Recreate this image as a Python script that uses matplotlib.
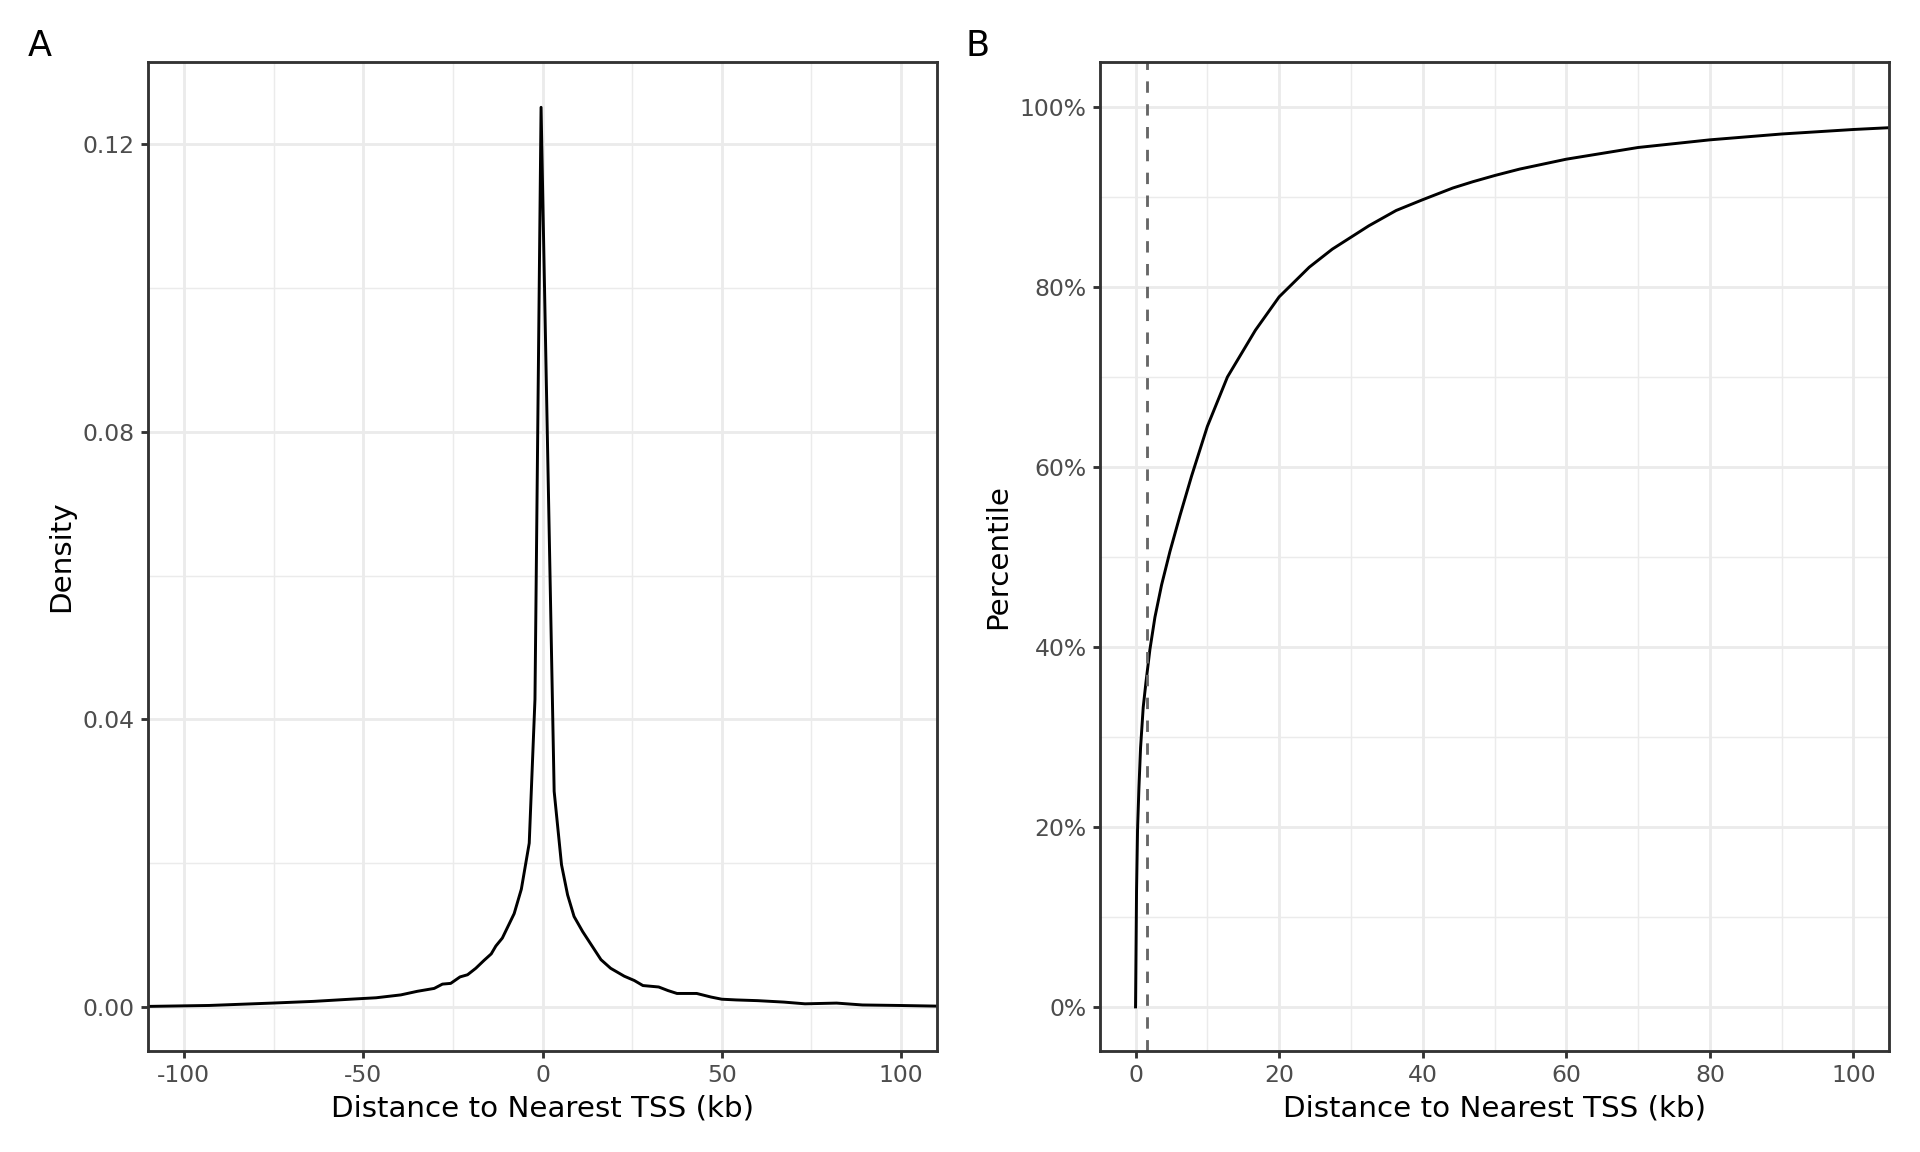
import numpy as np
import matplotlib
matplotlib.use('Agg')
import matplotlib.pyplot as plt
from matplotlib.ticker import MultipleLocator, FuncFormatter

# Panel A: density of distance to nearest TSS (kb)
density_x = [-110, -93, -75.5, -63.8, -53.6, -46.4, -39.5, -34.9, -30.2, -27.9,
             -25.6, -23, -20.9, -18.6, -16.3, -14.3, -13, -11.2, -7.9, -5.9,
             -3.7, -2.1, -0.4, 3.25, 5.3, 7, 8.8, 11.2, 16.3, 19,
             22.8, 25.6, 28, 32.4, 35, 37.5, 43, 47, 50, 54,
             60, 67.3, 73.2, 82, 89.2, 99.4, 110]
density_y = [0.0001, 0.00023, 0.00056, 0.0008, 0.0011, 0.0013, 0.0017, 0.0022, 0.0026, 0.0032,
             0.0033, 0.0042, 0.0045, 0.0054, 0.0065, 0.0074, 0.0085, 0.0096, 0.013, 0.0164,
             0.0228, 0.0428, 0.1251, 0.0300, 0.0198, 0.0156, 0.0126, 0.0105, 0.0066, 0.0054,
             0.0043, 0.0037, 0.0030, 0.0028, 0.0023, 0.0019, 0.0019, 0.0014, 0.0011, 0.0010,
             0.0009, 0.0007, 0.00046, 0.00056, 0.0003, 0.00023, 0.00014]

# Panel B: cumulative percentile of absolute distance (kb)
cdf_x = [0, 0.14, 0.28, 0.47, 0.70, 1.07, 1.44, 2.0, 2.7, 3.63, 4.79, 6.19, 7.81, 10,
         12.8, 16.7, 20, 24.2, 27.4, 32.5, 36.3, 40, 44.2, 47, 50.1, 53.5,
         60, 70, 80, 90, 100, 105]
cdf_y = [0, 0.129, 0.197, 0.243, 0.288, 0.333, 0.36, 0.397, 0.433, 0.469, 0.506, 0.546, 0.590, 0.645,
         0.700, 0.752, 0.789, 0.822, 0.842, 0.868, 0.885, 0.897, 0.910, 0.917, 0.924, 0.931,
         0.942, 0.955, 0.9635, 0.970, 0.975, 0.977]
median_cut = 1.53

plt.rcParams['font.family'] = ['DejaVu Sans']

fig = plt.figure(figsize=(10, 6), dpi=192)
axA = fig.add_axes([148/1920, 1 - 1051/1152, 789/1920, 989/1152])
axB = fig.add_axes([1100/1920, 1 - 1051/1152, 789/1920, 989/1152])


def bw_style(ax):
    ax.set_facecolor('white')
    ax.grid(which='major', color='#EBEBEB', lw=1.07)
    ax.grid(which='minor', color='#EBEBEB', lw=0.53)
    ax.set_axisbelow(True)
    for s in ax.spines.values():
        s.set_color('#333333')
        s.set_linewidth(1.07)
        s.set_zorder(5)
    ax.tick_params(which='major', length=2.75, width=1.07, color='#333333',
                   labelsize=8.8, labelcolor='#4D4D4D', pad=2.2)
    ax.tick_params(which='minor', length=0)


axA.plot(density_x, density_y, color='black', lw=1.1, solid_joinstyle='round')
axA.set_xlim(-110, 110)
axA.set_ylim(-0.0061, 0.1314)
axA.xaxis.set_major_locator(MultipleLocator(50))
axA.xaxis.set_minor_locator(MultipleLocator(25))
axA.yaxis.set_major_locator(MultipleLocator(0.04))
axA.yaxis.set_minor_locator(MultipleLocator(0.02))
axA.xaxis.set_major_formatter(FuncFormatter(lambda v, p: f'{v:.0f}'))
axA.yaxis.set_major_formatter(FuncFormatter(lambda v, p: f'{v:.2f}'))
bw_style(axA)
axA.set_xlabel('Distance to Nearest TSS (kb)', fontsize=11, labelpad=2.75)
axA.set_ylabel('Density', fontsize=11, labelpad=2.75)

axB.plot(cdf_x, cdf_y, color='black', lw=1.1, solid_joinstyle='round')
axB.axvline(median_cut, color='#666666', lw=1.07, dashes=(4, 4))
axB.set_xlim(-4.95, 104.95)
axB.set_ylim(-0.049, 1.05)
axB.xaxis.set_major_locator(MultipleLocator(20))
axB.xaxis.set_minor_locator(MultipleLocator(10))
axB.yaxis.set_major_locator(MultipleLocator(0.2))
axB.yaxis.set_minor_locator(MultipleLocator(0.1))
axB.yaxis.set_major_formatter(FuncFormatter(lambda v, p: f'{v*100:.0f}%'))
bw_style(axB)
axB.set_xlabel('Distance to Nearest TSS (kb)', fontsize=11, labelpad=2.75)
axB.set_ylabel('Percentile', fontsize=11, labelpad=2.75)

fig.text(40/1920, 1 - 46/1152, 'A', fontsize=13.2, ha='center', va='center')
fig.text(978/1920, 1 - 46/1152, 'B', fontsize=13.2, ha='center', va='center')

fig.savefig('out.png', dpi=192, facecolor='white')
